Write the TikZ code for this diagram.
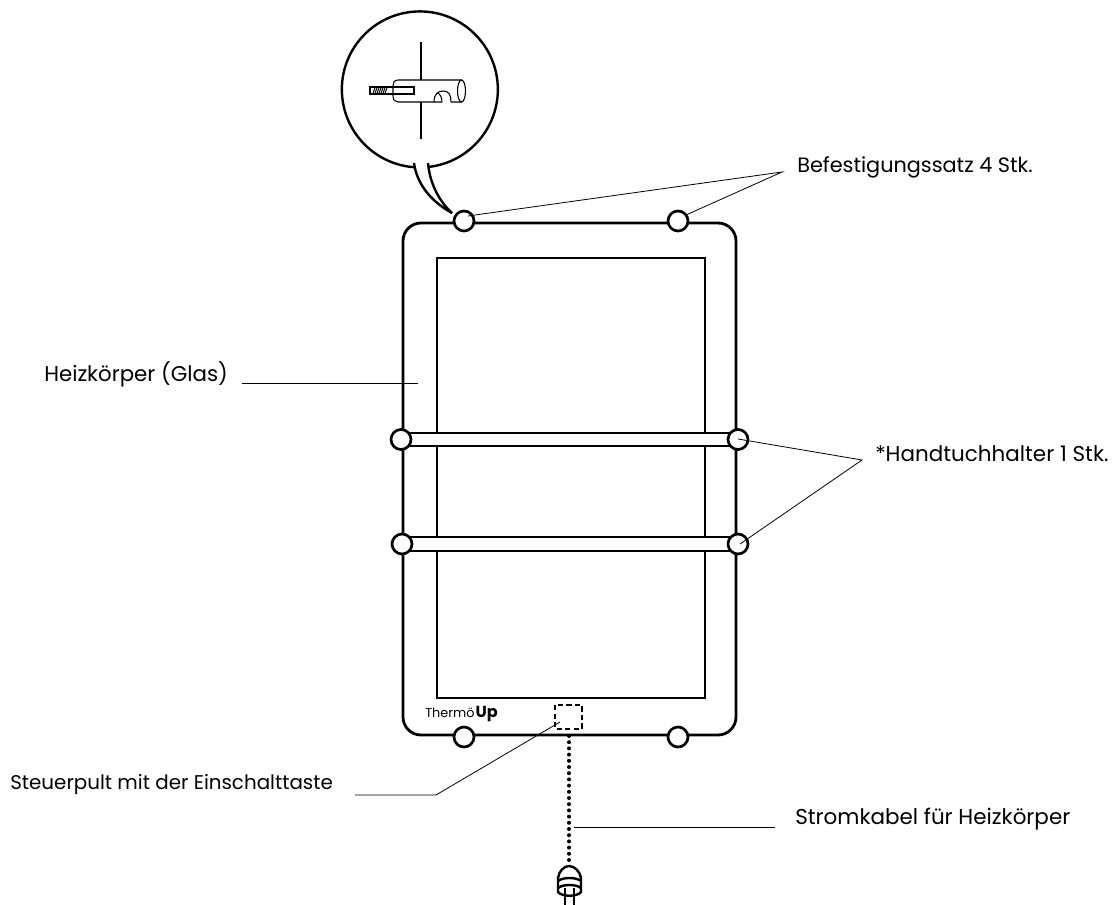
\documentclass[tikz,border=0pt]{standalone}
\usepackage{fontspec}
\setmainfont{Poppins}
\tikzset{x=0.75pt,y=-0.75pt,
 thick line/.style={line width=2.1pt,black},
 thin line/.style={line width=0.6pt,black},
 lbl/.style={inner sep=0pt,anchor=west,font=\fontsize{#1}{18}\selectfont},
 knob/.style={circle,draw=black,line width=2pt,fill=white,minimum size=15pt,inner sep=0pt}}
\begin{document}
\begin{tikzpicture}
\useasboundingbox (0,0) rectangle (1114,905);
% labels
\node[lbl=15.6] (t1) at (797,167) {Befestigungssatz 4 Stk.};
\node[lbl=16] (t2) at (44,374) {Heizkörper (Glas)};
\node[lbl=16.1] (t3) at (875,454) {*Handtuchhalter 1 Stk.};
\node[lbl=14.9] (t4) at (10,785) {Steuerpult mit der Einschalttaste};
\node[lbl=16.1] (t5) at (795,819) {Stromkabel für Heizkörper};
% frame
\draw[thick line,rounded corners=13.5pt] (403,223) rectangle (736,735);
\draw[thick line] (437,258) rectangle (705,698);
% bars
\draw[thick line,fill=white] (401,433) rectangle (738,446);
\draw[thick line,fill=white] (402,537) rectangle (738,551);
\node[knob] (k1) at (401,439.5) {};
\node[knob] (k2) at (738,439.5) {};
\node[knob] (k3) at (402,544) {};
\node[knob] (k4) at (738,544) {};
\node[knob] (k5) at (464,221) {};
\node[knob] (k6) at (678,221) {};
\node[knob] (k7) at (464,737) {};
\node[knob] (k8) at (678,737) {};
% leader lines
\coordinate (b) at (782,172);
\coordinate (h) at (862,460);
\draw[thin line] (468,216) -- (b) -- (686,215);
\draw[thin line] (738,439) -- (h) -- (740,544);
\draw[thin line] (242,383) -- (418,383);
\draw[thin line] (355,795) -- (436,795) -- (560,722);
\draw[thin line] (574,827) -- (775,827);
% callout
\draw[line width=1.8pt] (428,167) arc[start angle=84,end angle=-266.5,radius=78];
\draw[line width=1.8pt] (414,163) .. controls (417,185) and (432,202) .. (452,213);
\draw[line width=1.8pt] (428,163) .. controls (430,185) and (440,202) .. (452,213);
% fixing detail
\draw[line width=0.8pt] (421,42) -- (421,80) (421,102) -- (421,139);
\draw[line width=0.8pt] (462,80) -- (398,80) .. controls (394,80) and (393,83) .. (393,86) -- (393,96) .. controls (393,100) and (395,102) .. (398,102) -- (442,102) (451,102) -- (462,102);
\draw[line width=0.8pt] (461.5,91) ellipse[x radius=4,y radius=11];
\draw[line width=0.8pt] (434,102) .. controls (434,94) and (438,91) .. (443,91) .. controls (449,91) and (451,95) .. (451,102);
\draw[line width=0.8pt] (442,102) .. controls (442,97) and (440,94) .. (437,92.5);
\draw[line width=0.8pt] (370,87) rectangle (414,94);
\foreach \i in {0,2,...,12}{\draw[line width=0.7pt] (373+\i,93) -- (375+\i,88);}
% logo
\node[inner sep=0pt,anchor=west,font=\fontsize{9.6}{12}\selectfont] (logo) at (425,714) {Thermö\kern0.8pt\fontsize{12}{12}\selectfont\bfseries Up};
% control panel
\draw[line width=1.6pt,dash pattern=on 4pt off 2.4pt] (555,705) rectangle (582,729);
% cable
\draw[line width=3pt,line cap=round,dash pattern=on 0pt off 4.65pt] (569,736) -- (569,860);
% plug
\coordinate (pt) at (569,866);
\draw[line width=1.8pt] (558,893) -- (558,878) .. controls (559,871) and (564,866) .. (pt) .. controls (574,866) and (580,871) .. (581,878) -- (581,893);
\draw[line width=1.8pt] (558,881) .. controls (563,877) and (576,877) .. (581,881);
\draw[line width=1.8pt] (558,888) .. controls (563,884) and (576,884) .. (581,888);
\draw[line width=1.8pt] (558,892) .. controls (562,897) and (577,897) .. (581,892);
\draw[line width=1.7pt] (565,888) -- (565,905) (574,888) -- (574,905);
\end{tikzpicture}
\end{document}
